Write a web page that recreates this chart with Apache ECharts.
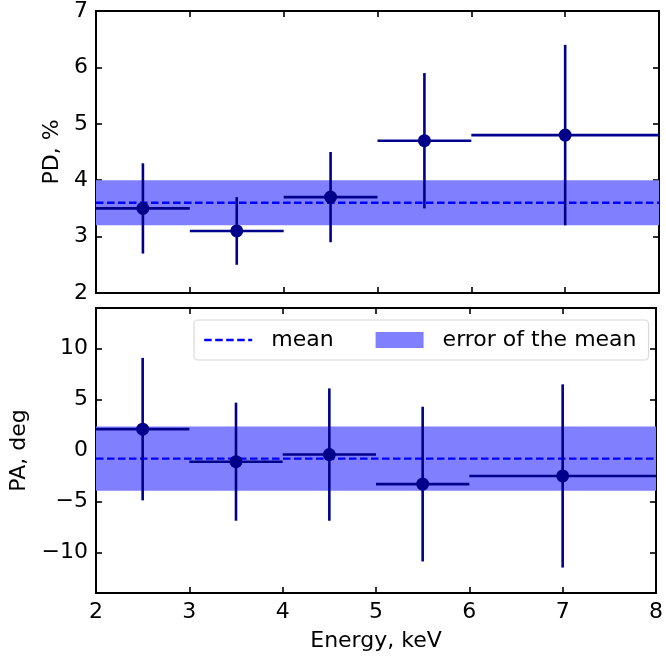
<!DOCTYPE html>
<html>
<head>
<meta charset="utf-8">
<script src="https://cdn.jsdelivr.net/npm/echarts@6/dist/echarts.min.js"></script>
<style>
  html, body { margin: 0; padding: 0; background: #fff; }
  #chart { width: 666px; height: 657px; }
</style>
</head>
<body>
<div id="chart"></div>
<script>
// energy bins, keV
const energyMid = [2.5, 3.5, 4.5, 5.5, 7];
const energyLo = [2, 3, 4, 5, 6];
const energyHi = [3, 4, 5, 6, 8];
// polarization degree, %
const pdValues = [3.5, 3.1, 3.7, 4.7, 4.8];
const pdErrors = [0.8, 0.6, 0.8, 1.2, 1.6];
const pdMean = 3.6;
const pdMeanErr = 0.4;
// polarization angle, deg
const paValues = [2.1, -1.1, -0.4, -3.3, -2.5];
const paErrors = [7.0, 5.8, 6.5, 7.6, 9.0];
const paMean = -0.8;
const paMeanErr = 3.15;
// ticks
const energyTicks = [2, 3, 4, 5, 6, 7, 8];
const pdTicks = [2, 3, 4, 5, 6, 7];
const paTicks = [-10, -5, 0, 5, 10];

const FONT = "'DejaVu Sans', sans-serif";
const DARK = '#00008b';

function rows(vals, errs) {
  return energyMid.map((x, i) => [x, vals[i], energyLo[i], energyHi[i], errs[i]]);
}

function renderErrorBar(params, api) {
  const x = api.value(0), y = api.value(1), e = api.value(4);
  const p = api.coord([x, y]);
  const pl = api.coord([api.value(2), y]);
  const ph = api.coord([api.value(3), y]);
  const pt = api.coord([x, y + e]);
  const pb = api.coord([x, y - e]);
  const st = { stroke: DARK, lineWidth: 2.6 };
  return {
    type: 'group',
    children: [
      { type: 'line', shape: { x1: pl[0], y1: pl[1], x2: ph[0], y2: ph[1] }, style: st },
      { type: 'line', shape: { x1: pt[0], y1: pt[1], x2: pb[0], y2: pb[1] }, style: st },
      { type: 'circle', shape: { cx: p[0], cy: p[1], r: 6.5 }, style: { fill: DARK } }
    ]
  };
}

function renderBand(params, api) {
  const a = api.coord([api.value(0), api.value(1)]);
  const b = api.coord([api.value(2), api.value(3)]);
  return {
    type: 'rect',
    shape: { x: a[0], y: b[1], width: b[0] - a[0], height: a[1] - b[1] },
    style: { fill: '#8080ff' }
  };
}

const minus = v => String(v).replace('-', '\u2212');

const axisLine = { onZero: false, lineStyle: { color: '#000', width: 2 } };
const dash = { color: '#0000ff', width: 2.4, type: [7.5, 3.5] };

function xAxes(g, labels) {
  const base = {
    type: 'value', gridIndex: g, min: 2, max: 8,
    axisLine: axisLine,
    axisTick: { inside: true, length: 6, customValues: energyTicks, lineStyle: { color: '#000', width: 1.6 } },
    splitLine: { show: false }
  };
  return [
    Object.assign({}, base, {
      position: 'bottom',
      axisLabel: { show: labels, customValues: energyTicks, color: '#000', fontSize: 22, fontFamily: FONT, margin: 8 },
      name: labels ? 'Energy, keV' : '',
      nameLocation: 'middle', nameGap: 37,
      nameTextStyle: { color: '#000', fontSize: 22, fontFamily: FONT }
    }),
    Object.assign({}, base, { position: 'top', axisLabel: { show: false } })
  ];
}

function yAxes(g, min, max, ticks, name, gap) {
  const base = {
    type: 'value', gridIndex: g, min: min, max: max,
    axisLine: axisLine,
    axisTick: { inside: true, length: 6, customValues: ticks, lineStyle: { color: '#000', width: 1.6 } },
    splitLine: { show: false }
  };
  return [
    Object.assign({}, base, {
      position: 'left',
      axisLabel: { customValues: ticks, color: '#000', fontSize: 22, fontFamily: FONT, margin: 8, formatter: minus },
      name: name, nameLocation: 'middle', nameGap: gap,
      nameTextStyle: { color: '#000', fontSize: 22, fontFamily: FONT }
    }),
    Object.assign({}, base, { position: 'right', axisLabel: { show: false } })
  ];
}

const chart = echarts.init(document.getElementById('chart'));
chart.setOption({
  animation: false,
  backgroundColor: '#fff',
  grid: [
    { left: 96, top: 8, width: 563, height: 285 },
    { left: 96, top: 308, width: 563, height: 285 }
  ],
  xAxis: xAxes(0, false).concat(xAxes(1, true)),
  yAxis: yAxes(0, 2, 7, pdTicks, 'PD, %', 28).concat(yAxes(1, -14, 14, paTicks, 'PA, deg', 60)),
  legend: {
    left: 194, top: 320,
    padding: [9, 12, 9, 9],
    itemWidth: 48, itemHeight: 16, itemGap: 42,
    backgroundColor: '#fff',
    borderColor: '#d9d9d9', borderWidth: 1.2, borderRadius: 4,
    textStyle: { color: '#000', fontSize: 22, fontFamily: FONT, padding: [0, 0, 0, 14] },
    data: [
      { name: 'mean', lineStyle: dash },
      { name: 'error of the mean', icon: 'rect' }
    ]
  },
  series: [
    {
      name: 'error of the mean', type: 'custom', xAxisIndex: 0, yAxisIndex: 0, z: 1,
      itemStyle: { color: '#8080ff' },
      renderItem: renderBand, data: [[2, pdMean - pdMeanErr, 8, pdMean + pdMeanErr]]
    },
    {
      name: 'error of the mean', type: 'custom', xAxisIndex: 2, yAxisIndex: 2, z: 1,
      itemStyle: { color: '#8080ff' },
      renderItem: renderBand, data: [[2, paMean - paMeanErr, 8, paMean + paMeanErr]]
    },
    {
      name: 'mean', type: 'line', xAxisIndex: 0, yAxisIndex: 0, z: 2, symbol: 'none',
      lineStyle: dash,
      itemStyle: { color: 'rgba(0,0,0,0)', borderWidth: 0 },
      data: [[2, pdMean], [8, pdMean]]
    },
    {
      name: 'mean', type: 'line', xAxisIndex: 2, yAxisIndex: 2, z: 2, symbol: 'none',
      lineStyle: dash,
      itemStyle: { color: 'rgba(0,0,0,0)', borderWidth: 0 },
      data: [[2, paMean], [8, paMean]]
    },
    {
      name: 'PD', type: 'custom', xAxisIndex: 0, yAxisIndex: 0, z: 3,
      encode: { x: [0, 2, 3], y: 1 },
      renderItem: renderErrorBar, data: rows(pdValues, pdErrors)
    },
    {
      name: 'PA', type: 'custom', xAxisIndex: 2, yAxisIndex: 2, z: 3,
      encode: { x: [0, 2, 3], y: 1 },
      renderItem: renderErrorBar, data: rows(paValues, paErrors)
    }
  ]
});
</script>
</body>
</html>
